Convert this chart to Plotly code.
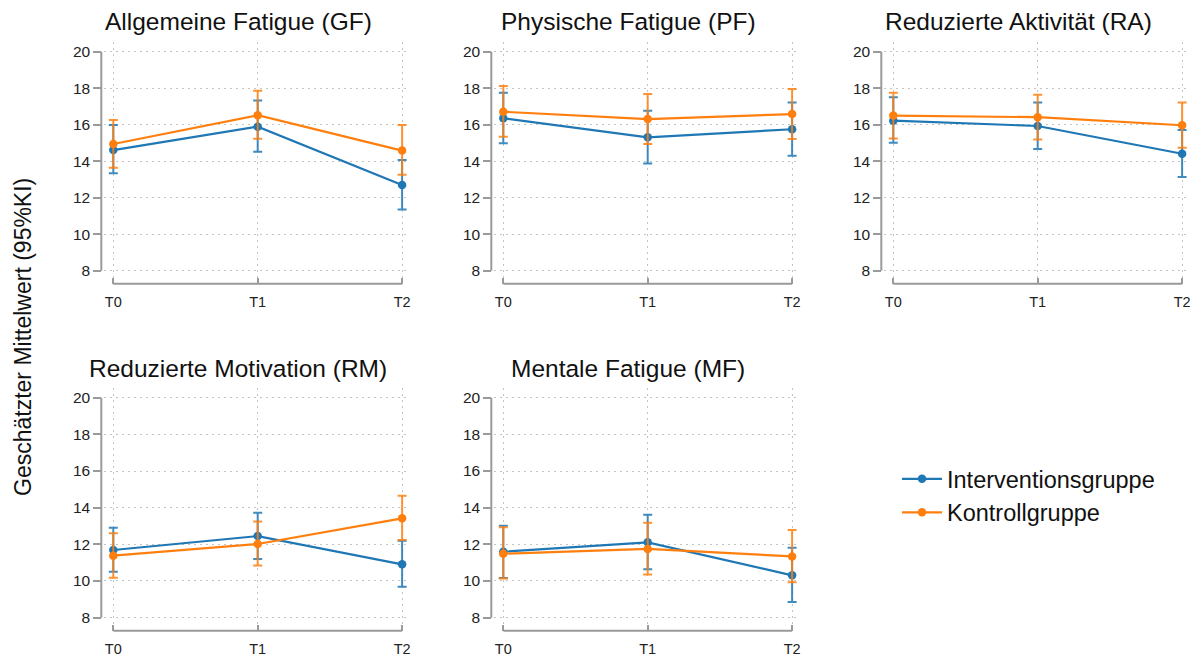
import plotly.graph_objects as go

# ---------------- data ----------------
timepoints = ["T0", "T1", "T2"]
titles = ["Allgemeine Fatigue (GF)", "Physische Fatigue (PF)", "Reduzierte Aktivität (RA)",
          "Reduzierte Motivation (RM)", "Mentale Fatigue (MF)"]
groups = ["Interventionsgruppe", "Kontrollgruppe"]
y_ticks = [8, 10, 12, 14, 16, 18, 20]

# Interventionsgruppe: estimated mean, lower / upper 95% CI (per subscale, T0..T2)
iv_mean = [[14.61, 15.89, 12.70], [16.35, 15.31, 15.75], [16.22, 15.93, 14.41],
           [11.69, 12.45, 10.91], [11.60, 12.11, 10.31]]
iv_lower = [[13.34, 14.52, 11.36], [14.98, 13.88, 14.30], [15.01, 14.67, 13.13],
            [10.51, 11.20, 9.69], [10.16, 10.64, 8.85]]
iv_upper = [[15.98, 17.32, 14.07], [17.75, 16.77, 17.21], [17.50, 17.22, 15.71],
            [12.91, 13.73, 12.20], [13.02, 13.62, 11.82]]

# Kontrollgruppe
kg_mean = [[14.94, 16.52, 14.58], [16.71, 16.31, 16.58], [16.50, 16.41, 15.97],
           [11.38, 12.02, 13.42], [11.49, 11.75, 11.34]]
kg_lower = [[13.64, 15.23, 13.26], [15.34, 14.94, 15.21], [15.25, 15.19, 14.74],
            [10.18, 10.84, 12.24], [10.13, 10.35, 9.93]]
kg_upper = [[16.26, 17.86, 15.98], [18.12, 17.68, 17.96], [17.75, 17.64, 17.22],
            [12.60, 13.24, 14.65], [12.93, 13.18, 12.78]]

# ---------------- styling / geometry ----------------
W, H = 1195, 659
colors = ["#1f77b4", "#ff7f0e"]
err_colors = ["rgba(31,119,180,0.85)", "rgba(255,127,14,0.85)"]
axis_col = "#9a9a9a"
grid_col = "#c4c4c4"
font_family = "Liberation Sans, Arial, sans-serif"

col_t0_px = [113.3, 503.3, 893.3]
ppu_x = 144.4
row_y20_px = [51.7, 397.7]
ppu_y = [18.25, 18.33]
x_range = [-0.065, 2.055]
y_range = [7.6, 20.55]

fig = go.Figure()
shapes = []
annotations = []
series = [(iv_mean, iv_lower, iv_upper), (kg_mean, kg_lower, kg_upper)]

for i, title in enumerate(titles):
    row, col = divmod(i, 3)
    sfx = "" if i == 0 else str(i + 1)
    t0 = col_t0_px[col]
    y20 = row_y20_px[row]
    py = ppu_y[row]

    x_dom = [(t0 + x_range[0] * ppu_x) / W, min(1.0, (t0 + x_range[1] * ppu_x) / W)]
    top_px = y20 + (20 - y_range[1]) * py
    bot_px = y20 + (20 - y_range[0]) * py
    y_dom = [1 - bot_px / H, 1 - top_px / H]
    xr = [x_range[0], x_range[0] + (x_dom[1] * W - x_dom[0] * W) / ppu_x]

    yaxis_pos = (t0 - 12) / W
    xaxis_pos = 1 - (y20 + 12 * py + 13) / H

    for g in range(2):
        mean, lo, hi = series[g]
        m = mean[i]
        fig.add_trace(go.Scatter(
            x=timepoints, y=m, mode="lines+markers",
            name=groups[g], legendgroup=groups[g], showlegend=(i == 0),
            line=dict(color=colors[g], width=2.2),
            marker=dict(color=colors[g], size=8.5),
            error_y=dict(type="data", symmetric=False,
                         array=[h - v for h, v in zip(hi[i], m)],
                         arrayminus=[v - l for v, l in zip(m, lo[i])],
                         color=err_colors[g], thickness=2, width=4.5),
            cliponaxis=False,
            xaxis="x" + sfx, yaxis="y" + sfx,
        ))

    fig.update_layout(**{
        "xaxis" + sfx: dict(
            domain=x_dom, range=xr, type="category",
            anchor="free", position=xaxis_pos,
            showline=False, zeroline=False,
            showgrid=True, gridcolor=grid_col, griddash="2px,4px", gridwidth=1,
            ticks="inside", ticklen=6, tickwidth=1.5, tickcolor=axis_col,
            ticklabelstandoff=8,
            tickfont=dict(size=14.5, color="#222", family=font_family),
        ),
        "yaxis" + sfx: dict(
            domain=y_dom, range=y_range,
            anchor="free", position=yaxis_pos,
            tickvals=y_ticks,
            showline=False, zeroline=False,
            showgrid=True, gridcolor=grid_col, griddash="2px,4px", gridwidth=1,
            ticks="outside", ticklen=8, tickwidth=1.5, tickcolor=axis_col,
            tickfont=dict(size=15.5, color="#222", family=font_family),
        ),
    })

    # detached axis lines (R base-graphics style)
    shapes.append(dict(type="line", xref="paper", yref="y" + sfx,
                       x0=yaxis_pos, x1=yaxis_pos, y0=y_ticks[0], y1=y_ticks[-1],
                       line=dict(color=axis_col, width=2)))
    shapes.append(dict(type="line", xref="x" + sfx, yref="paper",
                       x0=timepoints[0], x1=timepoints[-1], y0=xaxis_pos, y1=xaxis_pos,
                       line=dict(color=axis_col, width=2)))

    # panel title
    annotations.append(dict(
        text=title, xref="paper", yref="paper",
        x=(t0 + ppu_x - 19.5) / W, y=1 - (22 if row == 0 else 368) / H,
        xanchor="center", yanchor="middle", showarrow=False,
        font=dict(size=24.5, color="#111", family=font_family),
    ))

annotations.append(dict(
    text="Geschätzter Mittelwert (95%KI)", xref="paper", yref="paper",
    x=23 / W, y=1 - 337 / H, textangle=-90,
    xanchor="center", yanchor="middle", showarrow=False,
    font=dict(size=23, color="#111", family=font_family),
))

fig.update_layout(
    width=W, height=H, autosize=False,
    margin=dict(l=0, r=0, t=0, b=0),
    paper_bgcolor="white", plot_bgcolor="white",
    shapes=shapes, annotations=annotations,
    showlegend=True,
    legend=dict(x=897 / W, y=1 - 496 / H, xanchor="left", yanchor="middle",
                font=dict(size=23.5, color="#111", family=font_family),
                bgcolor="rgba(0,0,0,0)", itemwidth=40, tracegroupgap=0),
    font=dict(family=font_family),
)

fig.write_html("out.html", config={"displayModeBar": False},
               post_script="document.body.style.margin='0px';document.body.style.padding='0px';")
